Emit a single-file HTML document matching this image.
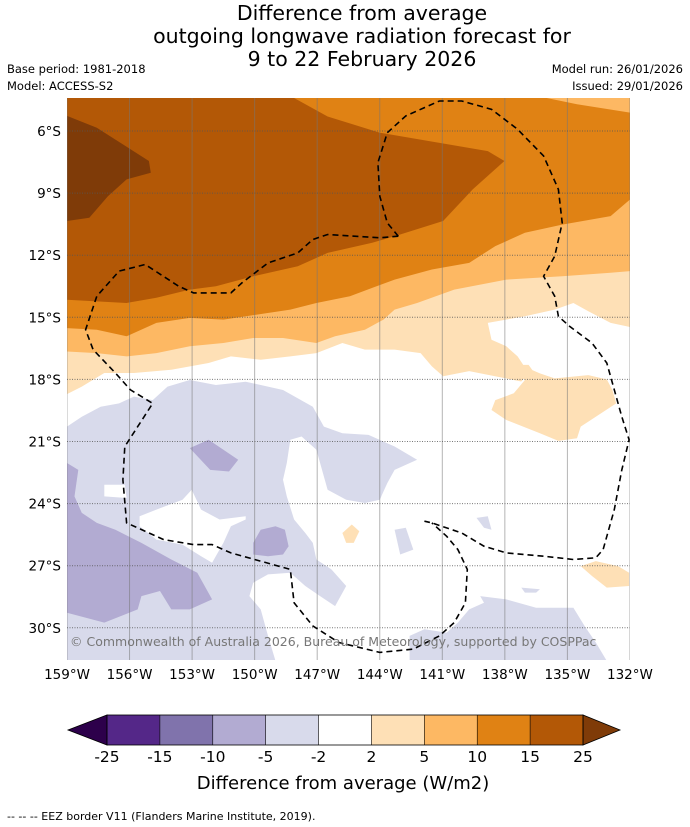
<!DOCTYPE html>
<html><head><meta charset="utf-8">
<style>
body{margin:0;background:#fff;font-family:"DejaVu Sans","Liberation Sans",sans-serif;}
svg{display:block}
</style></head>
<body>
<svg id="chart" width="690" height="827" viewBox="0 0 690 827" xmlns="http://www.w3.org/2000/svg" font-family="DejaVu Sans, Liberation Sans, sans-serif">
<g font-size="20.5" text-anchor="middle" fill="#000">
<text x="362" y="20">Difference from average</text>
<text x="362" y="43">outgoing longwave radiation forecast for</text>
<text x="362" y="66">9 to 22 February 2026</text>
</g>
<text x="7" y="73" font-size="11.5">Base period: 1981-2018</text>
<text x="7" y="90" font-size="11.5">Model: ACCESS-S2</text>
<text x="683" y="73" font-size="11.5" text-anchor="end">Model run: 26/01/2026</text>
<text x="683" y="90" font-size="11.5" text-anchor="end">Issued: 29/01/2026</text>
<defs><clipPath id="mapclip"><rect x="67" y="98" width="563" height="562"/></clipPath></defs>
<g id="map" clip-path="url(#mapclip)"></g>
<g id="axes"></g>
<g id="cbar"></g>
<text x="343" y="789" font-size="18" text-anchor="middle">Difference from average (W/m2)</text>
<text x="7" y="820" font-size="11">--  --  -- EEZ border V11 (Flanders Marine Institute, 2019).</text>
</svg>
<script>
// Contour bands as [longitude °W, latitude °S] vertices
const band25 = [[159,5.27],[157.57,5.84],[155.07,7.45],[154.98,8.02],[156.14,8.34],[157.04,9.15],[157.93,10.19],[159,10.35]];
const band15 = [[159,4.3],[148.3,4.3],[146.5,5.3],[144.0,6.08],[138.82,6.97],[138.02,7.45],[139.54,8.82],[140.96,10.35],[143.29,11.08],[144.36,11.4],[146.5,11.89],[147.93,12.53],[150.07,13.02],[151.86,13.5],[153.11,13.66],[154.71,14.06],[156.14,14.31],[159,14.15]];
const band10 = [[159,4.3],[136.5,4.3],[134.54,4.71],[132,5.11],[132,9.31],[132.93,10.11],[135.25,10.52],[137.04,10.92],[138.46,11.56],[139.71,12.37],[141.5,12.69],[143.29,13.18],[144.36,13.58],[145.43,13.98],[147.04,14.31],[148.29,14.63],[149.89,14.87],[151.5,15.11],[153.11,15.03],[154.71,15.27],[156.14,15.92],[157.57,15.6],[159,15.52]];
const band5 = [[159,4.3],[132,4.3],[132,12.77],[132.93,12.85],[135.25,13.02],[137.93,13.18],[140.43,13.66],[142.21,14.31],[143.29,14.63],[143.82,15.11],[144.71,15.6],[146.14,15.92],[147.04,16.24],[148.64,16.0],[150.07,16.0],[151.5,16.24],[153.11,16.4],[154.71,16.73],[156.14,16.89],[157.57,16.73],[159,16.65]];
const band2 = [[159,4.3],[132,4.3],[132,15.47],[132.93,15.27],[134.0,14.71],[134.71,14.31],[135.61,14.63],[137.04,14.95],[138.82,15.27],[138.64,16.08],[137.93,16.4],[137.39,16.89],[136.86,17.69],[137.21,18.1],[139.71,17.6],[140.96,17.85],[141.5,17.37],[142.04,16.73],[143.29,16.56],[144.71,16.56],[145.79,16.24],[147.04,16.73],[148.29,16.89],[149.71,17.05],[151.14,16.89],[152.21,17.21],[154.0,17.53],[155.79,17.69],[157.21,17.69],[158.29,18.35],[159,18.71]];
const band2b = [[137.3,17.3],[137.66,17.55],[137.04,18.03],[137.57,18.67],[138.46,19.0],[138.64,19.48],[137.93,19.96],[136.32,20.6],[135.43,20.97],[134.54,20.84],[134.36,20.28],[133.64,19.8],[132.66,19.16],[132.84,18.51],[133.11,18.0],[134.0,17.79],[135.61,17.95],[136.32,17.71],[136.68,17.55],[136.86,17.3]];
const band2c = [[145.79,25.42],[145.34,25.01],[144.98,25.34],[145.25,25.9],[145.61,25.9]];
const band2d = [[134.36,27.02],[133.64,26.78],[132.57,27.02],[132.04,27.34],[132.04,27.98],[133.11,28.06],[133.82,27.5]];
const bandM2 = [[159,20.28],[158.29,19.8],[157.39,19.32],[156.5,19.16],[155.79,18.83],[154.89,19.0],[154.18,18.35],[153.11,18.03],[151.86,18.27],[150.43,18.11],[148.64,18.51],[147.21,19.32],[146.68,20.28],[145.79,20.6],[144.54,20.68],[143.29,21.24],[142.21,21.88],[143.29,22.37],[143.64,23.01],[144.0,23.81],[144.71,23.97],[145.61,23.81],[146.5,23.33],[146.86,22.04],[147.04,21.4],[147.75,20.76],[148.29,20.92],[148.46,22.04],[148.64,22.85],[148.46,23.65],[148.11,24.77],[147.57,25.42],[147.21,25.9],[147.04,26.7],[146.32,27.18],[145.61,27.98],[146.14,28.95],[146.86,28.47],[147.57,27.98],[148.29,27.34],[149.36,27.42],[150.07,27.82],[150.25,28.47],[149.71,29.11],[149.36,30.39],[149.0,31.6],[159,31.6]];
const bandM2b = [[142.57,30.39],[141.86,30.07],[140.79,30.23],[140.25,29.75],[139.71,29.11],[139.0,28.79],[139.18,28.47],[137.93,28.63],[136.5,29.03],[134.71,29.03],[134.18,29.91],[133.64,30.71],[133.11,31.6],[142.57,31.6]];
const bandM2c = [[139.36,24.69],[138.82,24.61],[138.64,25.26],[139.0,25.17]];
const bandM2d = [[143.29,25.26],[142.75,25.17],[142.39,26.22],[143.02,26.46]];
const bandM2e = [[137.21,28.06],[136.32,28.14],[136.5,28.3],[137.04,28.3]];
const holeA = [[157.21,23.09],[156.23,23.09],[156.14,23.73],[157.21,23.65]];
const holeB = [[155.52,24.61],[154.71,24.29],[153.46,23.81],[153.02,23.33],[152.57,24.29],[151.68,24.77],[150.43,24.61],[150.43,24.77],[151.14,25.09],[151.5,25.9],[152.04,26.86],[152.57,26.54],[153.46,25.98],[154.71,25.74],[155.52,25.09]];
const bandM5 = [[159,22.04],[158.46,22.37],[158.64,23.65],[158.29,24.45],[157.57,24.93],[156.68,25.26],[155.43,25.9],[154.0,26.7],[152.75,27.34],[152.04,28.63],[153.11,29.11],[154.0,29.11],[154.54,28.22],[155.43,28.47],[155.61,29.11],[157.21,29.75],[159,29.27]];
const bandM5b = [[153.11,21.32],[152.21,20.92],[150.79,21.88],[151.23,22.45],[152.13,22.37]];
const bandM5c = [[150.07,25.9],[149.71,25.26],[149.0,25.09],[148.55,25.26],[148.37,26.06],[148.64,26.46],[149.36,26.54],[150.07,26.46]];
const eezA = [[143.11,11.08],[143.64,10.44],[144.0,9.15],[144.09,7.53],[143.64,6.08],[142.75,5.27],[141.14,4.55],[140.07,4.55],[138.64,4.95],[137.39,5.92],[136.14,7.21],[135.43,8.82],[135.25,10.44],[135.61,12.05],[136.14,13.02],[135.61,13.98],[135.43,14.95],[134.89,15.44],[133.82,16.24],[133.11,17.21],[132.75,18.5],[132.39,19.8],[132.04,20.92],[132.39,22.37],[132.75,24.29],[133.29,26.22],[133.64,26.62],[134.71,26.7],[136.14,26.54],[137.93,26.38],[139.0,26.06],[140.07,25.42],[141.5,24.93],[141.86,24.85]];
const eezB = [[143.11,11.08],[144.0,11.16],[146.5,11.0],[147.21,11.24],[147.93,11.89],[149.36,12.37],[150.61,13.34],[151.14,13.82],[152.93,13.82],[153.64,13.5],[155.25,12.45],[156.5,12.77],[157.57,13.98],[158.11,15.6],[157.75,16.56],[156.68,17.69],[155.96,18.5],[154.89,19.16],[155.61,20.28],[156.23,21.24],[156.32,22.85],[156.14,24.93],[154.36,25.74],[152.93,25.98],[152.04,25.98],[151.14,26.38],[148.29,27.18],[148.11,28.79],[147.21,29.91],[145.96,30.71],[144.0,31.19],[142.39,31.03],[141.14,30.39],[140.43,29.75],[139.89,28.79],[139.8,27.18],[140.25,26.22],[140.79,25.58],[141.5,24.93]];
const lonTicks = [159,156,153,150,147,144,141,138,135,132];
const latTicks = [6,9,12,15,18,21,24,27,30];
const cbarLevels = ["-25","-15","-10","-5","-2","2","5","10","15","25"];
const cbarColors = ["#542788","#8073ac","#b2abd2","#d8daeb","#ffffff","#fee0b6","#fdb863","#e08214","#b35806"];

const NS="http://www.w3.org/2000/svg";
function xOf(lonW){return 67+(159-lonW)*20.85;}
function yOf(latS){return 131+(latS-6)*20.7;}
function mk(tag,attrs,parent){const e=document.createElementNS(NS,tag);for(const k in attrs)e.setAttribute(k,attrs[k]);parent.appendChild(e);return e;}
function pts(arr){return arr.map(p=>xOf(p[0]).toFixed(1)+","+yOf(p[1]).toFixed(1)).join(" ");}
const map=document.getElementById('map');
mk('rect',{x:67,y:98,width:563,height:562,fill:'#fff'},map);
const layers=[
 [band2,'#fee0b6','band-2-to-5'],[band2b,'#fee0b6','band-2-to-5-east'],[band2c,'#fee0b6','band-2-to-5-small'],[band2d,'#fee0b6','band-2-to-5-southeast'],
 [band5,'#fdb863','band-5-to-10'],[band10,'#e08214','band-10-to-15'],[band15,'#b35806','band-15-to-25'],[band25,'#7f3b08','band-above-25'],
 [bandM2,'#d8daeb','band-minus-2-to-5'],[bandM2b,'#d8daeb','band-minus-2-to-5-southeast'],[bandM2c,'#d8daeb','band-minus-2-to-5-patch-a'],[bandM2d,'#d8daeb','band-minus-2-to-5-patch-b'],[bandM2e,'#d8daeb','band-minus-2-to-5-patch-c'],
 [holeA,'#ffffff','neutral-hole-a'],[holeB,'#ffffff','neutral-hole-b'],
 [bandM5,'#b2abd2','band-minus-5-to-10'],[bandM5b,'#b2abd2','band-minus-5-to-10-patch-a'],[bandM5c,'#b2abd2','band-minus-5-to-10-patch-b']
];
layers.forEach(l=>{
 const e=mk('polygon',{points:pts(l[0]),fill:l[1]},map);
 
 
});
lonTicks.forEach(t=>{
 const e=mk('line',{x1:xOf(t),x2:xOf(t),y1:98,y2:660,stroke:'#777','stroke-width':1,'stroke-opacity':0.55},map);
 
 
});
latTicks.forEach(t=>{
 const e=mk('line',{x1:67,x2:630,y1:yOf(t),y2:yOf(t),stroke:'#555','stroke-width':1,'stroke-dasharray':'1,1.5','stroke-opacity':0.8},map);
 
 
});
[eezA,eezB].forEach(l=>{
 const e=mk('polyline',{points:pts(l),fill:'none',stroke:'#000','stroke-width':1.6,'stroke-dasharray':'6,4'},map);
 
 
});
const cr=mk('text',{x:70,y:646,'font-size':12.5,fill:'#777'},map);
cr.textContent="© Commonwealth of Australia 2026, Bureau of Meteorology, supported by COSPPac";


const axes=document.getElementById('axes');
lonTicks.forEach(t=>{
 const e=mk('text',{x:xOf(t),y:679,'font-size':13.5,'text-anchor':'middle'},axes);
 e.textContent=t+"°W";
 
 
});
latTicks.forEach(t=>{
 const e=mk('text',{x:61,y:yOf(t)+5,'font-size':13.5,'text-anchor':'end'},axes);
 e.textContent=t+"°S";
 
 
});
const cb=document.getElementById('cbar');
const cx0=107,cx1=583,cy=715,ch=30,bw=(cx1-cx0)/cbarColors.length;
const lt=mk('polygon',{points:`68,${cy+ch/2} ${cx0},${cy} ${cx0},${cy+ch}`,fill:'#2d004b',stroke:'#000','stroke-width':0.8},cb);


const rt=mk('polygon',{points:`620,${cy+ch/2} ${cx1},${cy} ${cx1},${cy+ch}`,fill:'#7f3b08',stroke:'#000','stroke-width':0.8},cb);


cbarColors.forEach((c,i)=>{
 const e=mk('rect',{x:cx0+i*bw,y:cy,width:bw,height:ch,fill:c},cb);
 
 
});
mk('rect',{x:cx0,y:cy,width:cx1-cx0,height:ch,fill:'none',stroke:'#000','stroke-width':0.8},cb);
cbarLevels.forEach((v,i)=>{
 mk('line',{x1:cx0+i*bw,x2:cx0+i*bw,y1:cy,y2:cy+ch,stroke:'#000','stroke-width':0.6},cb);
 const e=mk('text',{x:cx0+i*bw,y:762,'font-size':15.5,'text-anchor':'middle'},cb);
 e.textContent=v;
 
 
});
</script>
</body></html>
